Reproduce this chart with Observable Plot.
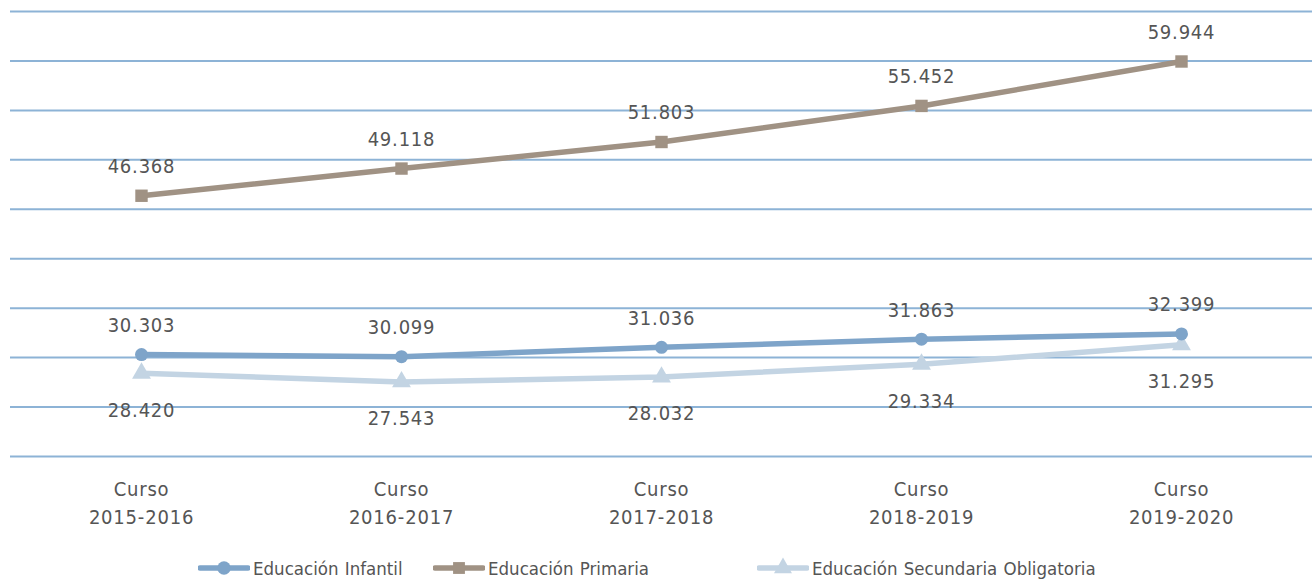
<!DOCTYPE html>
<html>
<head>
<meta charset="utf-8">
<script src="https://cdn.jsdelivr.net/npm/d3@7"></script>
<script src="https://cdn.jsdelivr.net/npm/@observablehq/plot@0.6"></script>
<style>
  html, body { margin: 0; padding: 0; background: #fff; }
  #chart { position: relative; width: 1314px; height: 582px; }
  #chart svg text { font-stretch: condensed; }
  .legend { position: absolute; top: 555px; left: 0; width: 1314px; height: 26px;
    font-family: "DejaVu Sans Condensed", "DejaVu Sans", sans-serif; font-stretch: condensed; font-size: 18.5px; color: #555; letter-spacing: 0px; word-spacing: 1px; }
  .item { position: absolute; top: 0; display: flex; align-items: center; height: 26px; }
  .item svg { margin-right: 3px; }
</style>
</head>
<body>
<div id="chart"></div>
<script>
const categories = ["2015-2016", "2016-2017", "2017-2018", "2018-2019", "2019-2020"];
const seriesNames = ["Educación Infantil", "Educación Primaria", "Educación Secundaria Obligatoria"];
const infantil = [30303, 30099, 31036, 31863, 32399];
const primaria = [46368, 49118, 51803, 55452, 59944];
const secundaria = [28420, 27543, 28032, 29334, 31295];
const gridTicks = [20000, 25000, 30000, 35000, 40000, 45000, 50000, 55000, 60000, 65000];

const colors = {"Educación Infantil": "#7ea4c9", "Educación Primaria": "#a09284", "Educación Secundaria Obligatoria": "#c3d4e3"};
const symbols = {"Educación Infantil": "circle", "Educación Primaria": "square", "Educación Secundaria Obligatoria": "triangle"};
const labelDy = {"Educación Infantil": -29, "Educación Primaria": -29, "Educación Secundaria Obligatoria": 37};

const seriesValues = [infantil, primaria, secundaria];
const rows = [];
seriesNames.forEach((s, i) => categories.forEach((c, j) => rows.push({serie: s, curso: c, valor: seriesValues[i][j]})));

const loc = d3.formatLocale({decimal: ",", thousands: ".", grouping: [3], currency: ["", "€"]});
const fmt = loc.format(",d");
const font = '"DejaVu Sans Condensed", "DejaVu Sans", sans-serif';
const textColor = "#555555";

const drawOrder = ["Educación Secundaria Obligatoria", "Educación Infantil", "Educación Primaria"];
const marks = [Plot.gridY(gridTicks, {stroke: "#8db3d6", strokeOpacity: 1, strokeWidth: 2})];
for (const s of drawOrder) {
  const d = rows.filter(r => r.serie === s);
  marks.push(Plot.line(d, {x: "curso", y: "valor", stroke: colors[s], strokeWidth: 5.5}));
  marks.push(Plot.dot(d, {x: "curso", y: "valor", fill: colors[s], stroke: null, symbol: () => symbols[s], r: s === "Educación Infantil" ? 6.5 : 7}));
}
for (const s of drawOrder) {
  const d = rows.filter(r => r.serie === s);
  marks.push(Plot.text(d, {x: "curso", y: "valor", text: r => fmt(r.valor), dy: labelDy[s], fill: textColor, fontSize: 20, fontFamily: font}));
}
marks.push(Plot.axisX({tickSize: 0, tickPadding: 20, tickFormat: d => `Curso\n${d}`, fontSize: 20, lineHeight: 1.38, fill: textColor, fontFamily: font, label: null}));

const plot = Plot.plot({
  width: 1314,
  height: 545,
  marginLeft: 10,
  marginRight: 2,
  marginTop: 11,
  marginBottom: 89,
  style: {fontFamily: font, background: "#fff", overflow: "visible"},
  x: {type: "point", domain: categories, padding: 0.5, axis: null},
  y: {domain: [20000, 65000], axis: null},
  marks
});
const chart = document.getElementById("chart");
chart.appendChild(plot);
plot.querySelectorAll("text").forEach(t => t.setAttribute("letter-spacing", "0.8px"));

// legend
const legend = document.createElement("div");
legend.className = "legend";
const legendLeft = {"Educación Infantil": 198, "Educación Primaria": 433, "Educación Secundaria Obligatoria": 757};
for (const s of seriesNames) {
  const item = document.createElement("div");
  item.className = "item";
  item.style.left = legendLeft[s] + "px";
  const sw = d3.create("svg").attr("width", 52).attr("height", 26);
  sw.append("line").attr("x1", 2).attr("x2", 50).attr("y1", 13).attr("y2", 13).attr("stroke", colors[s]).attr("stroke-width", 5.5).attr("stroke-linecap", "round");
  const sym = {circle: d3.symbolCircle, square: d3.symbolSquare, triangle: d3.symbolTriangle}[symbols[s]];
  sw.append("path").attr("d", d3.symbol(sym, 140)).attr("transform", "translate(26,13)").attr("fill", colors[s]);
  item.appendChild(sw.node());
  const span = document.createElement("span");
  span.textContent = s;
  item.appendChild(span);
  legend.appendChild(item);
}
chart.appendChild(legend);
</script>
</body>
</html>
